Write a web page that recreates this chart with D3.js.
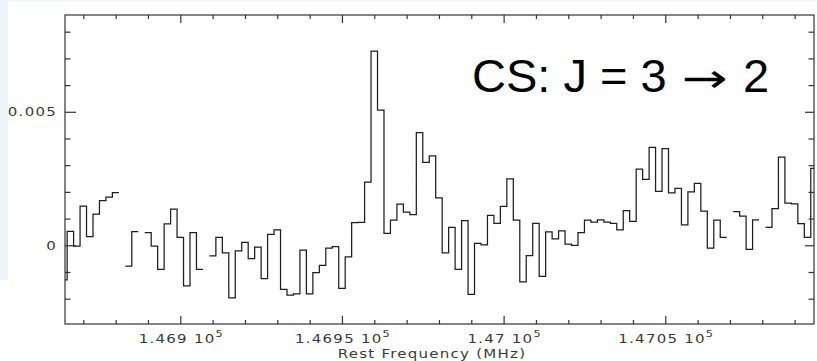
<!DOCTYPE html>
<html>
<head>
<meta charset="utf-8">
<script src="https://cdn.jsdelivr.net/npm/d3@7"></script>
<style>
  body { margin: 0; background: #fff; }
  svg { display: block; }
  .lbl { font-family: "DejaVu Sans", sans-serif; font-size: 12px; fill: #3a3a3a; letter-spacing: 1px; }
</style>
</head>
<body>
<div id="chart"></div>
<script>
// spectrum channels (MHz), first channel left edge and width
var chanStart = 146863.0;
var chanWidth = 2.0;
// antenna temperature per channel, null = blanked channel
var values = [
  -0.00130, 0.00052, -0.00003, 0.00147, 0.00032, 0.00117, 0.00167, 0.00180, 0.00197, null,
  -0.00078, 0.00051, null, 0.00047, -0.00003, -0.00090, 0.00080, 0.00135, 0.00030, -0.00152,
  0.00047, -0.00090, null, -0.00040, 0.00030, -0.00028, -0.00197, -0.00021, 0.00011, -0.00050,
  -0.00007, -0.00125, 0.00041, 0.00058, -0.00165, -0.00187, -0.00182, -0.00018, -0.00182, -0.00102,
  -0.00075, -0.00011, -0.00005, -0.00161, -0.00043, 0.00085, 0.00086, 0.00237, 0.00727, 0.00506,
  0.00045, 0.00094, 0.00154, 0.00124, 0.00115, 0.00422, 0.00311, 0.00335, 0.00178, -0.00028,
  0.00067, -0.00090, 0.00092, -0.00184, 0.00007, 0.00002, 0.00112, 0.00082, 0.00146, 0.00249,
  0.00094, -0.00137, -0.00039, 0.00082, -0.00116, 0.00050, 0.00024, 0.00054, 0.00004, 0.00000,
  0.00047, 0.00094, 0.00087, 0.00095, 0.00087, 0.00082, 0.00058, 0.00130, 0.00090, 0.00285,
  0.00247, 0.00367, 0.00202, 0.00362, 0.00196, 0.00213, 0.00076, 0.00200, 0.00232, 0.00128,
  -0.00011, 0.00094, 0.00030, null, 0.00126, 0.00109, -0.00015, 0.00095, null, 0.00067,
  0.00137, 0.00330, 0.00158, 0.00155, 0.00081, 0.00030, 0.00288
];

var xDomain = [146864.34, 147096.0];
var yDomain = [-0.002948, 0.008625];

var xMajor = [146900, 146950, 147000, 147050];
var xMajorLabels = ["1.469", "1.4695", "1.47", "1.4705"];
var xMinorStep = 10;
var yMajor = [0, 0.005];
var yMajorLabels = ["0", "0.005"];
var yMinorStep = 0.001;

var titleParts = ["CS: J = 3", "\u2192", "2"];
var xTitle = "Rest Frequency (MHz)";

var width = 817, height = 361;
var frame = { left: 65, right: 814, top: 15, bottom: 324 };
var label_stretch = 1.25;

var svg = d3.select("#chart").append("svg")
    .attr("width", width)
    .attr("height", height);

// pale page edge from the slide
svg.append("rect").attr("x", 0).attr("y", 0).attr("width", 8).attr("height", 280).attr("fill", "#eef5fc");
svg.append("rect").attr("x", 0).attr("y", 0).attr("width", width).attr("height", 2).attr("fill", "#eef5fc");

var x = d3.scaleLinear().domain(xDomain).range([frame.left, frame.right]);
var y = d3.scaleLinear().domain(yDomain).range([frame.bottom, frame.top]);

svg.append("clipPath").attr("id", "clip")
  .append("rect")
    .attr("x", frame.left).attr("y", frame.top)
    .attr("width", frame.right - frame.left).attr("height", frame.bottom - frame.top);

// *** HISTOGRAM *** //
var pts = [];
for (var i = 0; i < values.length; i++) {
  var left = chanStart + i * chanWidth;
  var v = values[i];
  pts.push({ f: left, v: v });
  if (v != null && (i == values.length - 1 || values[i + 1] == null)) {
    pts.push({ f: left + chanWidth, v: v });
  }
}

var line = d3.line()
    .defined(function(d) { return d.v != null; })
    .x(function(d) { return x(d.f); })
    .y(function(d) { return y(d.v); })
    .curve(d3.curveStepAfter);

svg.append("path")
    .attr("clip-path", "url(#clip)")
    .attr("d", line(pts))
    .attr("fill", "none")
    .attr("stroke", "#1e1e1e")
    .attr("stroke-width", 1.25);

// *** FRAME AND TICKS *** //
var xMinor = d3.range(Math.ceil(xDomain[0] / xMinorStep) * xMinorStep, xDomain[1], xMinorStep)
    .filter(function(d) { return xMajor.indexOf(d) < 0; });
var yMinor = d3.range(-0.002, yDomain[1], yMinorStep)
    .map(function(d) { return Math.round(d * 1e4) / 1e4; })
    .filter(function(d) { return yMajor.indexOf(d) < 0; });

var axisStyle = function(g) {
  g.select(".domain").remove();
  g.selectAll(".tick line").attr("stroke", "#333").attr("stroke-width", 1.2);
  g.selectAll(".tick text").remove();
};

[[frame.bottom, d3.axisBottom], [frame.top, d3.axisTop]].forEach(function(a) {
  svg.append("g").attr("transform", "translate(0," + a[0] + ")")
      .call(a[1](x).tickValues(xMajor).tickSize(-8)).call(axisStyle);
  svg.append("g").attr("transform", "translate(0," + a[0] + ")")
      .call(a[1](x).tickValues(xMinor).tickSize(-4)).call(axisStyle);
});

svg.append("g").attr("transform", "translate(" + frame.left + ",0)")
    .call(d3.axisLeft(y).tickValues(yMajor).tickSize(-11)).call(axisStyle);
svg.append("g").attr("transform", "translate(" + frame.left + ",0)")
    .call(d3.axisLeft(y).tickValues(yMinor).tickSize(-5.5)).call(axisStyle);
svg.append("g").attr("transform", "translate(" + frame.right + ",0)")
    .call(d3.axisRight(y).tickValues(yMajor).tickSize(-9)).call(axisStyle);
svg.append("g").attr("transform", "translate(" + frame.right + ",0)")
    .call(d3.axisRight(y).tickValues(yMinor).tickSize(-5.5)).call(axisStyle);

svg.append("rect")
    .attr("x", frame.left).attr("y", frame.top)
    .attr("width", frame.right - frame.left).attr("height", frame.bottom - frame.top)
    .attr("fill", "none").attr("stroke", "#333").attr("stroke-width", 1.2);

// *** LABELS *** //
// plot labels are wide, so stretch them horizontally around their anchor
var add_label = function(lx, ly, anchor) {
  return svg.append("g")
      .attr("transform", "translate(" + lx + "," + ly + ") scale(" + label_stretch + ",1)")
    .append("text").attr("class", "lbl")
      .attr("text-anchor", anchor);
};

xMajor.forEach(function(d, i) {
  var t = add_label(x(d) + 1, 342.5, "middle");
  t.append("tspan").text(xMajorLabels[i] + " 10");
  t.append("tspan").attr("dy", -6).attr("font-size", "9px").text("5");
});

yMajor.forEach(function(d, i) {
  add_label(57, y(d) + 4.5, "end").text(yMajorLabels[i]);
});

add_label(432, 357.5, "middle").text(xTitle);

var title = svg.append("text")
    .attr("y", 91.5)
    .attr("font-family", "Liberation Sans, Arial, sans-serif")
    .attr("font-size", "47px")
    .attr("fill", "#000");
title.append("tspan").attr("x", 472).text(titleParts[0]);
title.append("tspan").attr("x", 682)
    .attr("font-family", "DejaVu Sans").attr("font-size", "40px")
    .attr("textLength", 46).attr("lengthAdjust", "spacingAndGlyphs")
    .text(titleParts[1]);
title.append("tspan").attr("x", 743).text(titleParts[2]);
</script>
</body>
</html>
